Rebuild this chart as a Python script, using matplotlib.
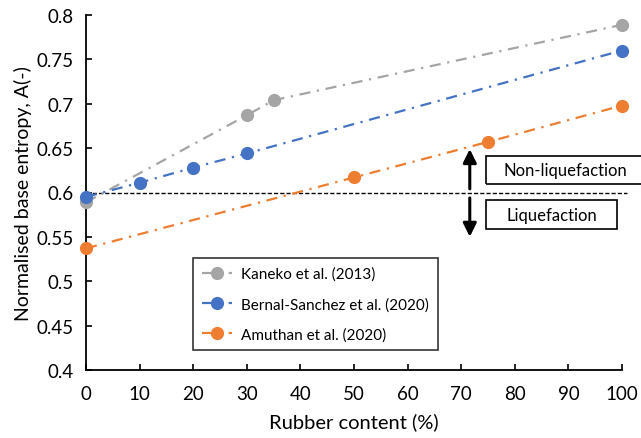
import matplotlib
matplotlib.use("Agg")
import matplotlib.pyplot as plt
from matplotlib.patches import Rectangle

plt.rcParams['font.family'] = ['Lato', 'DejaVu Sans']

# data
kaneko_x = [0, 30, 35, 100]
kaneko_y = [0.589, 0.687, 0.704, 0.789]
bernal_x = [0, 10, 20, 30, 100]
bernal_y = [0.595, 0.611, 0.628, 0.644, 0.760]
amuthan_x = [0, 50, 75, 100]
amuthan_y = [0.537, 0.617, 0.657, 0.698]
threshold = 0.6
xticks = list(range(0, 101, 10))
yticks = [0.4, 0.45, 0.5, 0.55, 0.6, 0.65, 0.7, 0.75, 0.8]

fig = plt.figure(figsize=(6.41, 4.39), dpi=100)
ax = fig.add_axes([86 / 641, 1 - 371 / 439, 536 / 641, 355 / 439])

dashdot = (0, (5, 3, 1, 3))
series = [
    (kaneko_x, kaneko_y, '#A5A5A5', 'Kaneko et al. (2013)'),
    (bernal_x, bernal_y, '#4472C4', 'Bernal-Sanchez et al. (2020)'),
    (amuthan_x, amuthan_y, '#ED7D31', 'Amuthan et al. (2020)'),
]
for xs, ys, c, lab in series:
    ax.plot(xs, ys, color=c, linestyle=dashdot, lw=1.6, marker='o',
            markersize=8.5, label=lab, clip_on=False, zorder=3)

# liquefaction threshold
ax.plot([0, 101], [threshold, threshold], color='black', linestyle=(0, (3, 1.5)),
        lw=1.0, clip_on=False, zorder=2)

# arrows
arr = dict(arrowstyle='-|>,head_length=0.5,head_width=0.25', color='black', lw=2.2,
           mutation_scale=16)
ax.annotate('', xy=(71.6, 0.652), xytext=(71.6, 0.601), arrowprops=arr)
ax.annotate('', xy=(71.6, 0.547), xytext=(71.6, 0.597), arrowprops=arr)

# text boxes
fig.patches.append(Rectangle((486 / 641, 1 - 185 / 439), 160 / 641, 28 / 439,
                             transform=fig.transFigure, fill=False, ec='black', lw=1.2))
fig.text(565 / 641, 1 - 171 / 439, 'Non-liquefaction', ha='center', va='center', fontsize=12)
fig.patches.append(Rectangle((486 / 641, 1 - 230 / 439), 131 / 641, 29 / 439,
                             transform=fig.transFigure, fill=False, ec='black', lw=1.2))
fig.text(552 / 641, 1 - 216 / 439, 'Liquefaction', ha='center', va='center', fontsize=12)

ax.set_xlim(0, 100)
ax.set_ylim(0.4, 0.8)
ax.set_xticks(xticks)
ax.set_yticks(yticks)
ax.set_yticklabels([f'{v:g}' for v in yticks])
ax.tick_params(direction='in', length=4, width=1.2, labelsize=13.5, color='black')
ax.tick_params(axis='x', pad=11)
ax.tick_params(axis='y', pad=9)
for s in ['top', 'right']:
    ax.spines[s].set_visible(False)
for s in ['left', 'bottom']:
    ax.spines[s].set_linewidth(1.3)

ax.set_xlabel('Rubber content (%)', fontsize=14.5, labelpad=7)
ax.set_ylabel('Normalised base entropy, A(-)', fontsize=14, labelpad=3)

leg = ax.legend(loc='upper left', bbox_to_anchor=(0.2, 0.315), borderaxespad=0,
                fancybox=False, edgecolor='black', fontsize=11, handlelength=2.0,
                labelspacing=1.05, borderpad=0.55, handletextpad=0.6)
leg.get_frame().set_linewidth(1.2)

fig.savefig('out.png', dpi=100)
